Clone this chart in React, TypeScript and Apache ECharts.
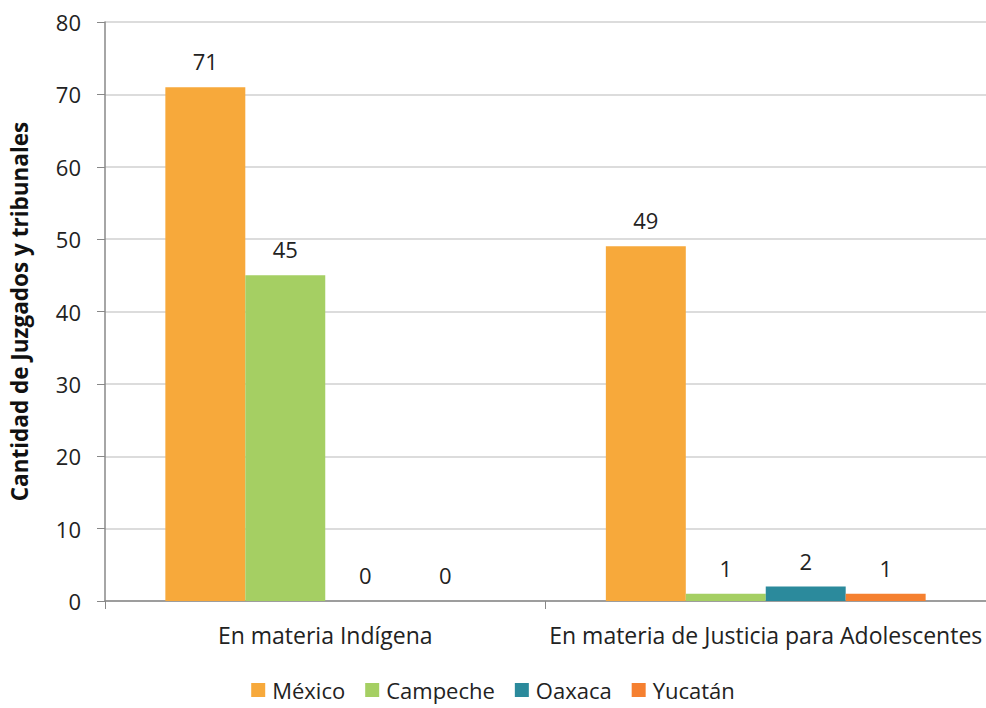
import React, { useEffect, useRef } from "react";
import * as echarts from "echarts";

const categories = ["En materia Indígena", "En materia de Justicia para Adolescentes"];
const seriesNames = ["México", "Campeche", "Oaxaca", "Yucatán"];
const mexico = [71, 49];
const campeche = [45, 1];
const oaxaca = [0, 2];
const yucatan = [0, 1];
const colors = ["#F7A93B", "#A5CF63", "#2B8A9C", "#F58030"];
const yTicks = { min: 0, max: 80, interval: 10 };

export default function App() {
  const ref = useRef<HTMLDivElement>(null);
  useEffect(() => {
    const chart = echarts.init(ref.current!, null, { renderer: "svg" });
    const values = [mexico, campeche, oaxaca, yucatan];
    const font = "'Open Sans', sans-serif";
    chart.setOption({
      animation: false,
      textStyle: { fontFamily: font },
      grid: { left: 96, right: 0, top: 22, bottom: 107, containLabel: false },
      legend: {
        top: 679,
        left: "center",
        padding: 0,
        itemWidth: 14,
        itemHeight: 14,
        itemGap: 20,
        icon: "rect",
        textStyle: { fontSize: 22, color: "#222", fontFamily: font, padding: [0, 0, 0, 2] },
        data: seriesNames,
      },
      xAxis: {
        type: "category",
        data: categories,
        axisLine: { lineStyle: { color: "#888", width: 1.5 } },
        axisTick: { show: true, length: 8, lineStyle: { color: "#888" } },
        axisLabel: { interval: 0, fontSize: 23, color: "#222", margin: 22, fontFamily: font },
      },
      yAxis: {
        type: "value",
        min: yTicks.min,
        max: yTicks.max,
        interval: yTicks.interval,
        name: "Cantidad de Juzgados y tribunales",
        nameLocation: "middle",
        nameGap: 74,
        nameTextStyle: { fontSize: 22.5, fontWeight: "bold", color: "#111", fontFamily: font },
        axisLine: { show: true, lineStyle: { color: "#888", width: 1.5 } },
        axisTick: { show: true, length: 8, inside: false, lineStyle: { color: "#888" } },
        axisLabel: { fontSize: 22, color: "#222", margin: 24, fontFamily: font },
        splitLine: { lineStyle: { color: "#d0d0d0", width: 1.5 } },
      },
      series: seriesNames.map((name, i) => ({
        name,
        type: "bar",
        data: values[i],
        barGap: "0%",
        barCategoryGap: "27.4%",
        itemStyle: { color: colors[i] },
        label: {
          show: true,
          position: "top",
          distance: 15,
          fontSize: 22,
          color: "#222",
          fontFamily: font,
        },
      })),
    });
    return () => chart.dispose();
  }, []);
  return (
    <div
      ref={ref}
      style={{ width: 986, height: 708, position: "absolute", left: 0, top: 0 }}
    />
  );
}
